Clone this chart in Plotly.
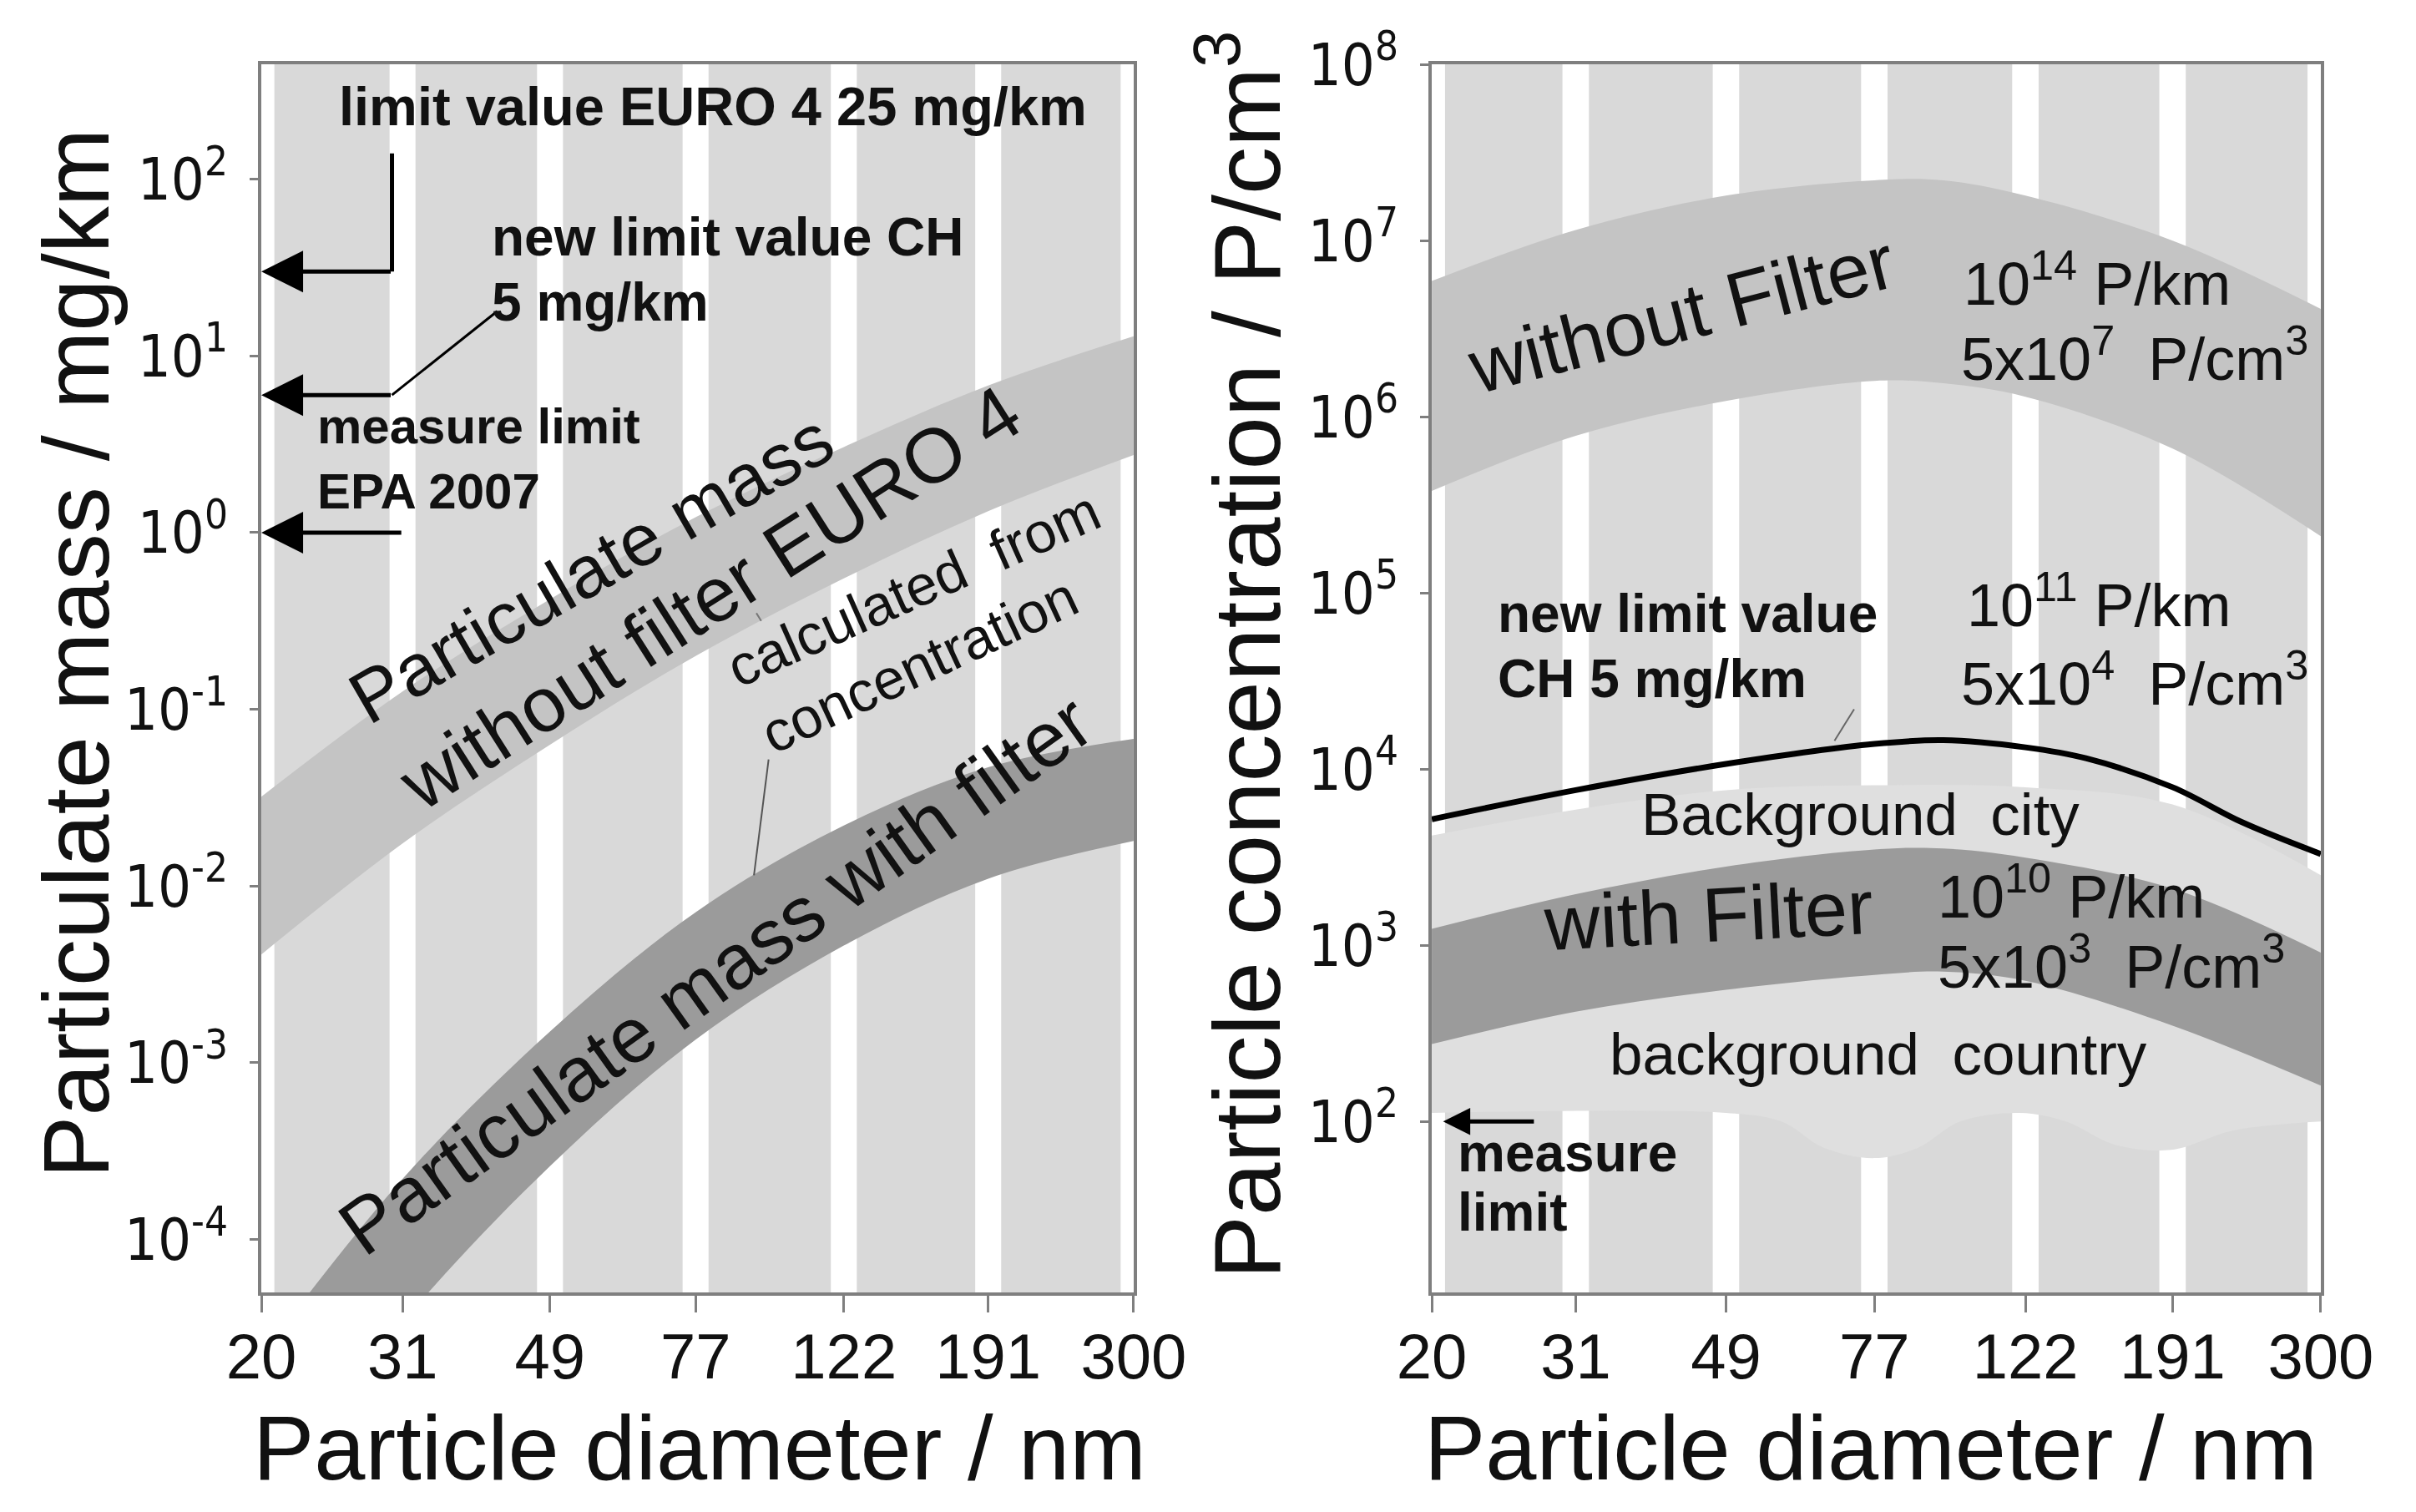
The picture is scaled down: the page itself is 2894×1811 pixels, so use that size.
import numpy as np
import plotly.graph_objects as go

# ---------------- data ----------------
diam_ticks = [20, 31, 49, 77, 122, 191, 300]
diam_tick_text = ["20", "31", "49", "77", "122", "191", "300"]

# left panel: particulate mass / mg/km
mass_diam = [20, 31, 49, 77, 122, 191, 300]
mass_nofilter_low = [0.0041, 0.0174, 0.063, 0.20, 0.55, 1.32, 2.75]
mass_nofilter_high = [0.032, 0.126, 0.42, 1.22, 3.05, 6.8, 12.9]
mass_filter_low = [3.1e-6, 3.4e-5, 2.6e-4, 1.35e-3, 4.6e-3, 0.011, 0.018]
mass_filter_high = [2.2e-5, 2.2e-4, 1.5e-3, 7.1e-3, 0.022, 0.047, 0.068]
mass_ticks = [1e-4, 1e-3, 1e-2, 1e-1, 1e0, 1e1, 1e2]
mass_tick_text = ["10<sup>-4</sup>", "10<sup>-3</sup>", "10<sup>-2</sup>", "10<sup>-1</sup>",
                  "10<sup>0</sup>", "10<sup>1</sup>", "10<sup>2</sup>"]
euro4_level = 30      # mg/km arrow level (as drawn)
ch_level = 6.0        # mg/km arrow level (as drawn)
epa_level = 1.0       # mg/km arrow level

# right panel: particle concentration / P/cm3
conc_diam = [20, 31, 49, 77, 95, 122, 191, 300]
conc_nofilter_low = [3.8e5, 7.8e5, 1.23e6, 1.6e6, 1.55e6, 1.3e6, 6.6e5, 2.1e5]
conc_nofilter_high = [5.9e6, 1.15e7, 1.8e7, 2.2e7, 2.2e7, 1.8e7, 1.0e7, 4.1e6]
conc_filter_low = [275, 420, 560, 680, 710, 630, 350, 160]
conc_filter_high = [1240, 1950, 2800, 3500, 3550, 3150, 2100, 910]
limit_diam = [20, 31, 49, 77, 95, 122, 147, 191, 236, 300]
limit_conc = [5200, 7600, 10700, 13900, 14600, 13300, 11500, 7900, 5000, 3300]
bg_top_diam = [20, 31, 49, 77, 122, 191, 300]
bg_top_conc = [4200, 5900, 7600, 8100, 7900, 6300, 2500]
bg_bottom_diam = [20, 49, 58, 66, 77, 88, 100, 120, 138, 160, 190, 230, 300]
bg_bottom_conc = [112, 112, 100, 71, 62, 71, 100, 112, 100, 74, 69, 89, 100]
conc_ticks = [1e2, 1e3, 1e4, 1e5, 1e6, 1e7, 1e8]
conc_tick_text = ["10<sup>2</sup>", "10<sup>3</sup>", "10<sup>4</sup>", "10<sup>5</sup>",
                  "10<sup>6</sup>", "10<sup>7</sup>", "10<sup>8</sup>"]
measure_limit_conc = 100

# ---------------- styling ----------------
FONT = "Liberation Sans, Arial, sans-serif"
NARROW = "Liberation Sans Narrow, Arial Narrow, DejaVu Sans Condensed, Liberation Sans, sans-serif"
TXT = "#111111"
STRIPE = "#d9d9d9"
BG_REGION = "#dfdfdf"
BAND_LIGHT = "#c4c4c4"
BAND_DARK = "#9b9b9b"
FRAME = "#7f7f7f"

XRANGE = [np.log10(20) - 1e-4, np.log10(300) + 1e-4]
YRANGE_L = [-4.30, 2.65]
YRANGE_R = [1.03, 8.001]
GAP = 10 ** 0.0175

fig = go.Figure()


def stripes(xa, ya, yrange):
    ylo, yhi = 10 ** (yrange[0] - 1), 10 ** (yrange[1] + 1)
    xs, ys = [], []
    for a, b in zip(diam_ticks[:-1], diam_ticks[1:]):
        x0, x1 = a * GAP, b / GAP
        xs += [x0, x1, x1, x0, x0, None]
        ys += [ylo, ylo, yhi, yhi, ylo, None]
    fig.add_trace(go.Scatter(x=xs, y=ys, mode="lines", fill="toself", fillcolor=STRIPE,
                             line=dict(width=0, color=STRIPE), xaxis=xa, yaxis=ya,
                             hoverinfo="skip"))


def band(xa, ya, xl, low, xh, high, color, shape="spline"):
    fig.add_trace(go.Scatter(x=xl, y=low, mode="lines", line=dict(width=0, color=color, shape=shape),
                             xaxis=xa, yaxis=ya, hoverinfo="skip"))
    fig.add_trace(go.Scatter(x=xh, y=high, mode="lines", fill="tonexty", fillcolor=color,
                             line=dict(width=0, color=color, shape=shape),
                             xaxis=xa, yaxis=ya, hoverinfo="skip"))


def line(xa, ya, x, y, width=5, color="black", shape="linear"):
    fig.add_trace(go.Scatter(x=x, y=y, mode="lines", line=dict(width=width, color=color, shape=shape),
                             xaxis=xa, yaxis=ya, hoverinfo="skip"))


# ---- left panel ----
stripes("x", "y", YRANGE_L)
band("x", "y", mass_diam, mass_nofilter_low, mass_diam, mass_nofilter_high, BAND_LIGHT)
band("x", "y", mass_diam, mass_filter_low, mass_diam, mass_filter_high, BAND_DARK)
line("x", "y", [30, 30], [140, euro4_level])
line("x", "y", [30, 41.6], [ch_level, 17.9], width=3)
line("x", "y", [96.6, 92.3], [0.052, 0.0115], width=2, color="#555555")
line("x", "y", [93, 94.4], [0.35, 0.316], width=2, color="#777777")

# ---- right panel ----
stripes("x2", "y2", YRANGE_R)
band("x2", "y2", bg_bottom_diam, bg_bottom_conc, bg_top_diam, bg_top_conc, BG_REGION)
band("x2", "y2", conc_diam, conc_nofilter_low, conc_diam, conc_nofilter_high, BAND_LIGHT)
band("x2", "y2", conc_diam, conc_filter_low, conc_diam, conc_filter_high, BAND_DARK)
line("x2", "y2", limit_diam, limit_conc, width=7, shape="spline")
line("x2", "y2", [72.4, 68.2], [21900, 14500], width=2, color="#666666")

# ---------------- annotations ----------------
L = np.log10
ann = []


def text(xr, yr, x, y, s, size, bold=False, angle=0, xanchor="left"):
    ann.append(dict(xref=xr, yref=yr, x=L(x), y=L(y), text=("<b>%s</b>" % s) if bold else s,
                    showarrow=False, textangle=angle, xanchor=xanchor, yanchor="middle",
                    xshift=-12, yshift=9,
                    font=dict(family=FONT, size=size, color=TXT)))


def arrow(xr, yr, x_tail, x_head, y, width, size):
    ann.append(dict(xref=xr, yref=yr, axref=xr, ayref=yr, x=L(x_head), y=L(y), ax=L(x_tail), ay=L(y),
                    text="", showarrow=True, arrowhead=2, arrowsize=size, arrowwidth=width,
                    arrowcolor="black", standoff=0))


# left
text("x", "y", 26.1, 10 ** 2.37, "limit value EURO 4 25 mg/km", 65, bold=True)
text("x", "y", 42.0, 10 ** 1.63, "new limit value CH", 64, bold=True)
text("x", "y", 42.0, 10 ** 1.26, "5 mg/km", 64, bold=True)
text("x", "y", 24.4, 10 ** 0.56, "measure limit", 60, bold=True)
text("x", "y", 24.4, 10 ** 0.19, "EPA 2007", 60, bold=True)
text("x", "y", 57.4, 10 ** -0.246, "Particulate mass", 88, angle=-30, xanchor="center")
text("x", "y", 82.9, 10 ** -0.41, "without filter EURO 4", 92, angle=-32.5, xanchor="center")
text("x", "y", 156, 10 ** -0.36, "calculated  from", 68, angle=-24, xanchor="center")
text("x", "y", 159, 10 ** -0.79, "concentration", 68, angle=-25, xanchor="center")
text("x", "y", 84.4, 10 ** -2.546, "Particulate mass with filter", 93, angle=-35.5, xanchor="center")
arrow("x", "y", 30, 20, euro4_level, 5, 2.0)
arrow("x", "y", 30, 20, ch_level, 5, 2.0)
arrow("x", "y", 31, 20, epa_level, 5, 2.0)

# right
text("x2", "y2", 44.1, 10 ** 6.54, "without Filter", 92, angle=-14.5, xanchor="center")
text("x2", "y2", 103.7, 10 ** 6.74, "10<sup>14</sup> P/km", 72)
text("x2", "y2", 102.9, 10 ** 6.31, "5x10<sup>7</sup>  P/cm<sup>3</sup>", 72)
text("x2", "y2", 25.1, 10 ** 4.84, "new limit value", 64, bold=True)
text("x2", "y2", 25.1, 10 ** 4.47, "CH 5 mg/km", 64, bold=True)
text("x2", "y2", 104.7, 10 ** 4.915, "10<sup>11</sup> P/km", 72)
text("x2", "y2", 102.9, 10 ** 4.47, "5x10<sup>4</sup>  P/cm<sup>3</sup>", 72)
text("x2", "y2", 76, 10 ** 3.70, "Background  city", 71, xanchor="center")
text("x2", "y2", 47.9, 10 ** 3.13, "with Filter", 92, angle=-3, xanchor="center")
text("x2", "y2", 95.8, 10 ** 3.26, "10<sup>10</sup> P/km", 72)
text("x2", "y2", 95.8, 10 ** 2.86, "5x10<sup>3</sup>  P/cm<sup>3</sup>", 72)
text("x2", "y2", 80.4, 10 ** 2.34, "background  country", 71, xanchor="center")
text("x2", "y2", 22.2, 10 ** 1.78, "measure", 64, bold=True)
text("x2", "y2", 22.2, 10 ** 1.44, "limit", 64, bold=True)
arrow("x2", "y2", 27.4, 20.7, measure_limit_conc, 5, 1.3)

# axis titles
for x, y, s, ang, size in [
    (0.0287, 0.572, "Particulate mass / mg/km", -90, 112),
    (0.5104, 0.571, "Particle concentration / P/cm<sup>3</sup>", -90, 114),
    (0.2868, 0.047, "Particle diameter / nm", 0, 110),
    (0.7716, 0.047, "Particle diameter / nm", 0, 110),
]:
    ann.append(dict(xref="paper", yref="paper", x=x, y=y, text=s, showarrow=False, textangle=ang,
                    xanchor="center", yanchor="middle", font=dict(family=FONT, size=size, color=TXT)))

axis_common = dict(showline=True, linecolor=FRAME, linewidth=4, mirror=True, showgrid=False,
                   zeroline=False, ticks="outside", tickcolor=FRAME, tickwidth=3, automargin=False)
xtick = dict(tickfont=dict(family=FONT, size=76, color=TXT), ticklabelstandoff=-12, ticklen=20)
ytick = dict(tickfont=dict(family=NARROW, size=70, color=TXT), ticklabelstandoff=12, ticklen=10)

fig.update_layout(
    width=2894, height=1811, margin=dict(l=0, r=0, t=0, b=0, autoexpand=False),
    paper_bgcolor="white", plot_bgcolor="white", showlegend=False,
    font=dict(family=FONT, color=TXT),
    xaxis=dict(domain=[0.10539, 0.46648], type="log", range=XRANGE, tickvals=diam_ticks,
               ticktext=diam_tick_text, anchor="y", **axis_common, **xtick),
    yaxis=dict(domain=[0.14964, 0.96190], type="log", range=YRANGE_L, tickvals=mass_ticks,
               ticktext=mass_tick_text, anchor="x", **axis_common, **ytick),
    xaxis2=dict(domain=[0.58984, 0.95785], type="log", range=XRANGE, tickvals=diam_ticks,
                ticktext=diam_tick_text, anchor="y2", **axis_common, **xtick),
    yaxis2=dict(domain=[0.14964, 0.96190], type="log", range=YRANGE_R, tickvals=conc_ticks,
                ticktext=conc_tick_text, anchor="x2", **axis_common, **ytick),
    annotations=ann,
)

fig.write_html("out.html")
